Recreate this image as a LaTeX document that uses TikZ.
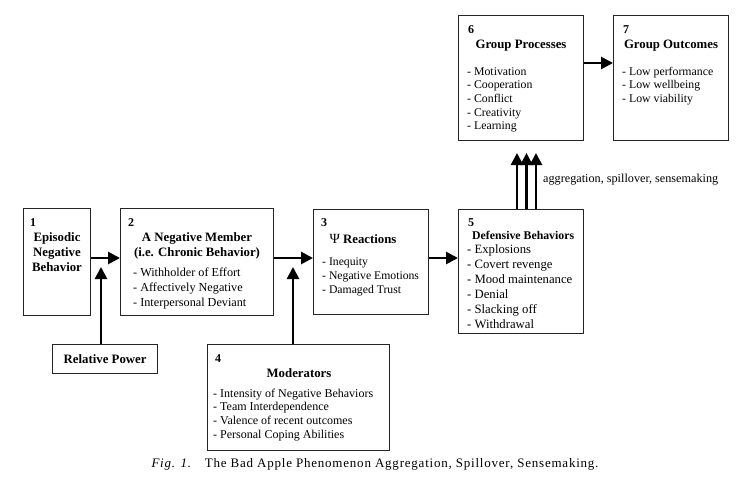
\documentclass[tikz,border=0pt]{standalone}
\usepackage{fontspec}
\setmainfont{Liberation Serif}
\usetikzlibrary{arrows.meta}
\begin{document}
\begin{tikzpicture}[x=1pt,y=-1pt,
  box/.style={draw=black!85,line width=1.2pt,inner sep=0pt,anchor=north west},
  txt/.style={inner sep=0pt,anchor=base west,align=left,font=\fontsize{12.2}{15}\selectfont},
  num/.style={inner sep=0pt,anchor=base west,font=\fontsize{12}{14}\selectfont\bfseries},
  ttl/.style={inner sep=0pt,anchor=base,align=center,font=\fontsize{12.8}{15}\selectfont\bfseries},
  arr/.style={line width=2.7pt,-{Triangle[length=12pt,width=12pt]}}]
\useasboundingbox (0,0) rectangle (740,501);
% boxes
\node[box,minimum width=67pt,minimum height=107pt] (b1) at (23,208) {};
\node[box,minimum width=153pt,minimum height=107pt] (b2) at (120,208) {};
\node[box,minimum width=115pt,minimum height=105pt] (b3) at (313,209) {};
\node[box,minimum width=125pt,minimum height=124pt] (b5) at (458,209) {};
\node[box,minimum width=125pt,minimum height=125pt] (b6) at (458,15) {};
\node[box,minimum width=115pt,minimum height=125pt] (b7) at (613,15) {};
\node[box,minimum width=105pt,minimum height=29pt] (rp) at (52,344) {};
\node[box,minimum width=182pt,minimum height=106pt] (b4) at (207,344) {};
% box 1
\node[num] (n1) at (30,226) {1};
\node[ttl] (t1) at (57,271) {Episodic\\Negative\\Behavior};
% box 2
\node[num] (n2) at (128,226) {2};
\node[ttl] (t2) at (197,256) {A Negative Member\\(i.e. Chronic Behavior)};
\node[txt] (l2) at (133,306) {- Withholder of Effort\\- Affectively Negative\\- Interpersonal Deviant};
% box 3
\node[num] (n3) at (321,226) {3};
\node[ttl] (t3) at (363,243) {{\fontsize{14}{15}\selectfont\mdseries Ψ} Reactions};
\node[txt,font=\fontsize{11.7}{14}\selectfont] (l3) at (322,293) {- Inequity\\- Negative Emotions\\- Damaged Trust};
% box 5
\node[num] (n5) at (468,226) {5};
\node[num,font=\fontsize{11.8}{12}\selectfont\bfseries] (t5) at (472,239) {Defensive Behaviors};
\node[txt,font=\fontsize{12.7}{15}\selectfont] (l5) at (467,328) {- Explosions\\- Covert revenge\\- Mood maintenance\\- Denial\\- Slacking off\\- Withdrawal};
% box 6
\node[num] (n6) at (468,33) {6};
\node[ttl] (t6) at (521,48) {Group Processes};
\node[txt,font=\fontsize{11.8}{13.7}\selectfont] (l6) at (467,129.8) {- Motivation\\- Cooperation\\- Conflict\\- Creativity\\- Learning};
% box 7
\node[num] (n7) at (623,33) {7};
\node[ttl] (t7) at (671,48) {Group Outcomes};
\node[txt,font=\fontsize{11.8}{13.7}\selectfont] (l7) at (622,102.4) {- Low performance\\- Low wellbeing\\- Low viability};
% relative power
\node[ttl,anchor=center] (trp) at (rp.center) {Relative Power};
% box 4
\node[num] (n4) at (215,362) {4};
\node[ttl] (t4) at (299,377) {Moderators};
\node[txt,font=\fontsize{12}{13.7}\selectfont] (l4) at (213,438.1) {- Intensity of Negative Behaviors\\- Team Interdependence\\- Valence of recent outcomes\\- Personal Coping Abilities};
% arrows
\coordinate (r1) at (0,258);
\coordinate (r2) at (0,63);
\coordinate (c1) at (101,267);
\coordinate (c2) at (293,267);
\draw[arr] (b1.east |- r1) -- (b2.west |- r1);
\draw[arr] (b2.east |- r1) -- (b3.west |- r1);
\draw[arr] (b3.east |- r1) -- (b5.west |- r1);
\draw[arr] (b6.east |- r2) -- (b7.west |- r2);
\draw[arr] (rp.north -| c1) -- (c1);
\draw[arr] (b4.north -| c2) -- (c2);
\coordinate (u1) at (517,153);
\coordinate (u2) at (526.5,153);
\coordinate (u3) at (536,153);
\draw[arr] (b5.north -| u1) -- (u1);
\draw[arr] (b5.north -| u2) -- (u2);
\draw[arr] (b5.north -| u3) -- (u3);
\node[txt,anchor=west,font=\fontsize{12.2}{15}\selectfont] (agg) at (543,180) {aggregation, spillover, sensemaking};
% caption
\node[inner sep=0pt,anchor=base,font=\fontsize{13}{15}\selectfont\addfontfeatures{LetterSpace=6}] (cap) at (375,467) {\textit{Fig. 1.}\hspace{1em}The Bad Apple Phenomenon Aggregation, Spillover, Sensemaking.};
\end{tikzpicture}
\end{document}
